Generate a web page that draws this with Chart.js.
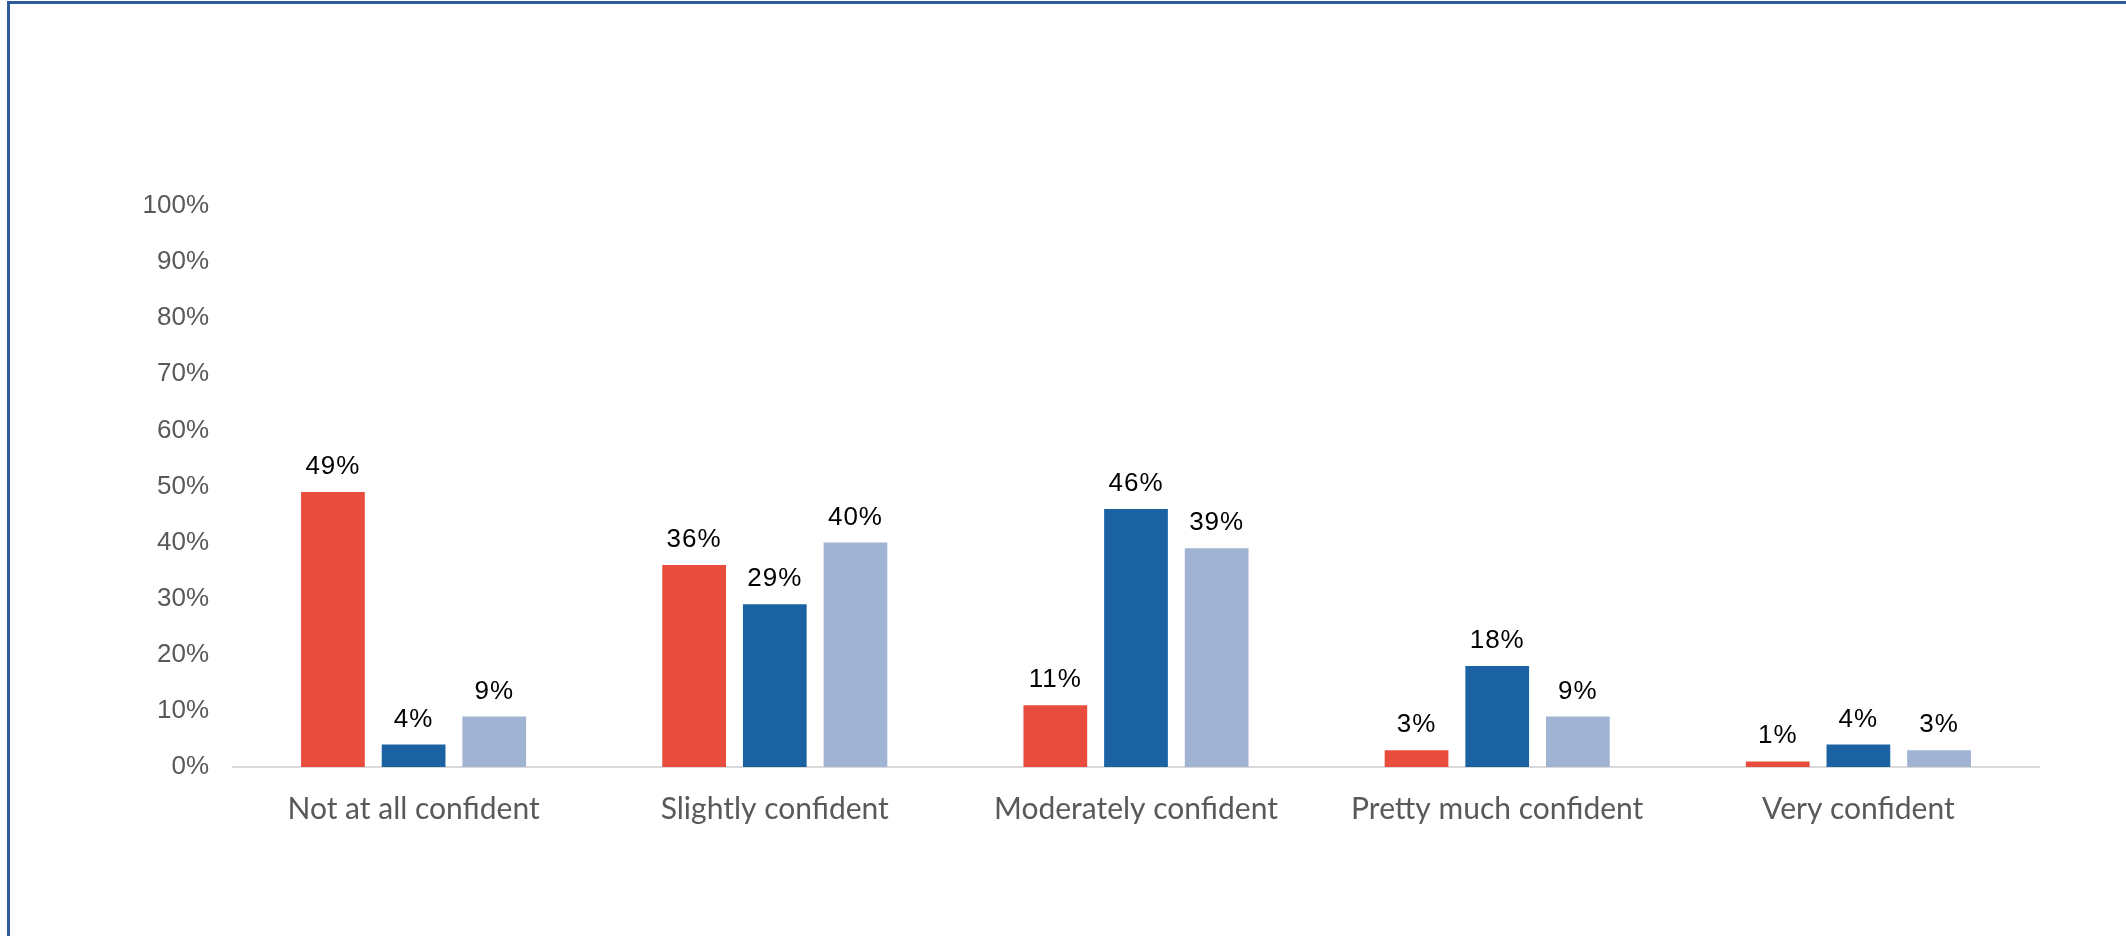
<!DOCTYPE html>
<html>
<head>
<meta charset="utf-8">
<title>Confidence levels</title>
<script src="https://cdn.jsdelivr.net/npm/chart.js@4/dist/chart.umd.min.js"></script>
<style>
  html, body { margin: 0; padding: 0; background: #ffffff; }
  #wrap { position: relative; width: 2126px; height: 936px; overflow: hidden; }
  #frame {
    position: absolute; left: 7px; top: 1px; right: -20px; bottom: -20px;
    border-left: 3px solid #2F5A9C; border-top: 3px solid #2F5A9C;
    pointer-events: none;
  }
  canvas { position: absolute; left: 0; top: 0; }
</style>
</head>
<body>
<div id="wrap">
  <canvas id="chart" width="2126" height="936"></canvas>
  <div id="frame"></div>
</div>
<script>
// Response categories along the x axis
const categories = [
  'Not at all confident',
  'Slightly confident',
  'Moderately confident',
  'Pretty much confident',
  'Very confident'
];

// Share of respondents per group, in percent
const seriesRed = [49, 36, 11, 3, 1];
const seriesBlue = [4, 29, 46, 18, 4];
const seriesLight = [9, 40, 39, 9, 3];

// Value axis ticks
const yTickValues = [0, 10, 20, 30, 40, 50, 60, 70, 80, 90, 100];

const seriesColors = ['#E84C3D', '#1A62A2', '#A1B3D3'];

// Writes the percentage above every bar
const valueLabels = {
  id: 'valueLabels',
  afterDatasetsDraw(chart) {
    const ctx = chart.ctx;
    ctx.save();
    ctx.font = '26px "Liberation Sans", Arial, sans-serif';
    if ('letterSpacing' in ctx) ctx.letterSpacing = '1px';
    ctx.fillStyle = '#000000';
    ctx.textAlign = 'center';
    ctx.textBaseline = 'alphabetic';
    chart.data.datasets.forEach((ds, di) => {
      const meta = chart.getDatasetMeta(di);
      meta.data.forEach((bar, i) => {
        ctx.fillText(Math.round(ds.data[i]) + '%', bar.x, bar.y - 18);
      });
    });
    ctx.restore();
  }
};

new Chart(document.getElementById('chart'), {
  type: 'bar',
  data: {
    labels: categories,
    datasets: [
      { label: 'Group 1', data: seriesRed, backgroundColor: seriesColors[0] },
      { label: 'Group 2', data: seriesBlue, backgroundColor: seriesColors[1] },
      { label: 'Group 3', data: seriesLight, backgroundColor: seriesColors[2] }
    ]
  },
  options: {
    responsive: false,
    animation: false,
    devicePixelRatio: 1,
    layout: { padding: { left: 0, right: 87, top: 206, bottom: 0 } },
    datasets: {
      bar: { categoryPercentage: 0.67, barPercentage: 0.79 }
    },
    plugins: {
      legend: { display: false },
      tooltip: { enabled: false }
    },
    scales: {
      x: {
        grid: { display: true, drawOnChartArea: false, drawTicks: false },
        border: { display: true, color: '#D9D9D9', width: 2 },
        ticks: {
          color: '#595959',
          padding: 24,
          font: { family: 'Lato, "Open Sans", sans-serif', size: 30 }
        },
        afterFit(scale) { scale.height = 169; }
      },
      y: {
        min: 0,
        max: 100,
        afterBuildTicks(scale) {
          scale.ticks = yTickValues.map(v => ({ value: v }));
        },
        grid: { display: false, drawTicks: false },
        border: { display: false },
        ticks: {
          color: '#595959',
          padding: 24,
          font: { family: '"Liberation Sans", Arial, sans-serif', size: 26 },
          callback: v => v + '%'
        },
        afterFit(scale) { scale.width = 233; }
      }
    }
  },
  plugins: [valueLabels]
});
</script>
</body>
</html>
